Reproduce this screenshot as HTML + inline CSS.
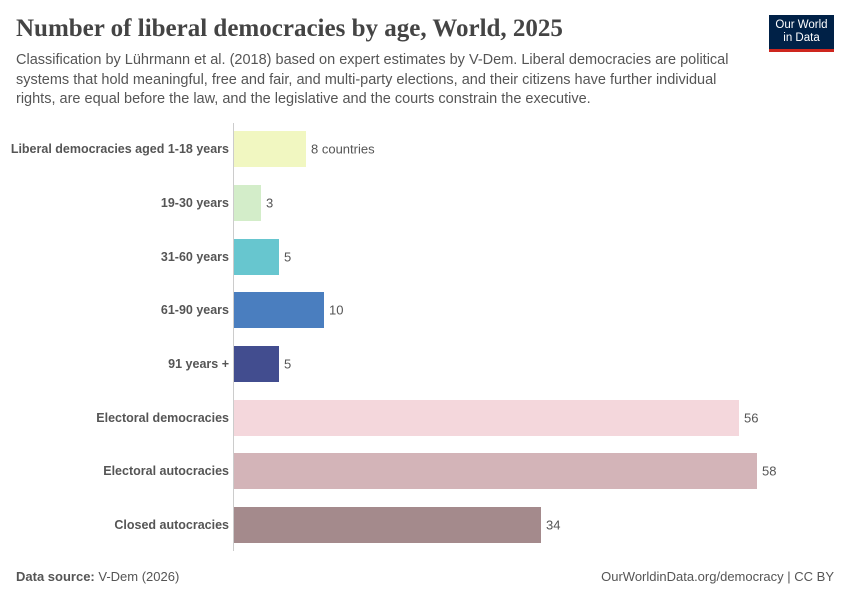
<!DOCTYPE html>
<html><head><meta charset="utf-8"><style>
body{margin:0;width:850px;height:600px;background:#fff;font-family:"Liberation Sans",sans-serif;position:relative;overflow:hidden}
.t{position:absolute;left:16px;top:15px;font-family:"Liberation Serif",serif;font-size:25px;color:#444;font-weight:bold}
.s{position:absolute;left:16px;top:51px;width:720px;font-size:14.5px;line-height:19.5px;color:#555}
.logo{position:absolute;left:769px;top:15px;width:65px;height:37px;background:#002147;border-bottom:3px solid #ce261e;color:#fff;font-size:11.5px;line-height:13px;text-align:center;padding-top:4px;box-sizing:border-box}
.lab{position:absolute;right:621px;font-size:12.5px;font-weight:bold;color:#555;transform:translateY(-50%);white-space:nowrap}
.bar{position:absolute;left:234px;height:36px;transform:translateY(-50%)}
.v{position:absolute;font-size:13px;color:#555;transform:translateY(-50%)}
.axis{position:absolute;left:233px;top:123px;width:1px;height:428px;background:#ccc}
.f{position:absolute;top:569px;font-size:13px;color:#555}
</style></head><body>
<div class="t">Number of liberal democracies by age, World, 2025</div>
<div class="s">Classification by Lührmann et al. (2018) based on expert estimates by V-Dem. Liberal democracies are political systems that hold meaningful, free and fair, and multi-party elections, and their citizens have further individual rights, are equal before the law, and the legislative and the courts constrain the executive.</div>
<div class="logo">Our World<br>in Data</div>
<div class="axis"></div>
<div class="lab" style="top:149px">Liberal democracies aged 1-18 years</div>
<div class="bar" style="top:149px;width:72px;background:#f1f7c1"></div><div class="v" style="top:149px;left:311px">8 countries</div>
<div class="lab" style="top:203px">19-30 years</div>
<div class="bar" style="top:203px;width:27px;background:#d3edc9"></div><div class="v" style="top:203px;left:266px">3</div>
<div class="lab" style="top:257px">31-60 years</div>
<div class="bar" style="top:257px;width:45px;background:#67c6cf"></div><div class="v" style="top:257px;left:284px">5</div>
<div class="lab" style="top:310px">61-90 years</div>
<div class="bar" style="top:310px;width:90px;background:#4a7ebf"></div><div class="v" style="top:310px;left:329px">10</div>
<div class="lab" style="top:364px">91 years +</div>
<div class="bar" style="top:364px;width:45px;background:#424d8f"></div><div class="v" style="top:364px;left:284px">5</div>
<div class="lab" style="top:418px">Electoral democracies</div>
<div class="bar" style="top:418px;width:505px;background:#f4d7dc"></div><div class="v" style="top:418px;left:744px">56</div>
<div class="lab" style="top:471px">Electoral autocracies</div>
<div class="bar" style="top:471px;width:523px;background:#d3b4b8"></div><div class="v" style="top:471px;left:762px">58</div>
<div class="lab" style="top:525px">Closed autocracies</div>
<div class="bar" style="top:525px;width:307px;background:#a48a8c"></div><div class="v" style="top:525px;left:546px">34</div>
<div class="f" style="left:16px"><b>Data source:</b> V-Dem (2026)</div>
<div class="f" style="right:16px">OurWorldinData.org/democracy | CC BY</div>
</body></html>
